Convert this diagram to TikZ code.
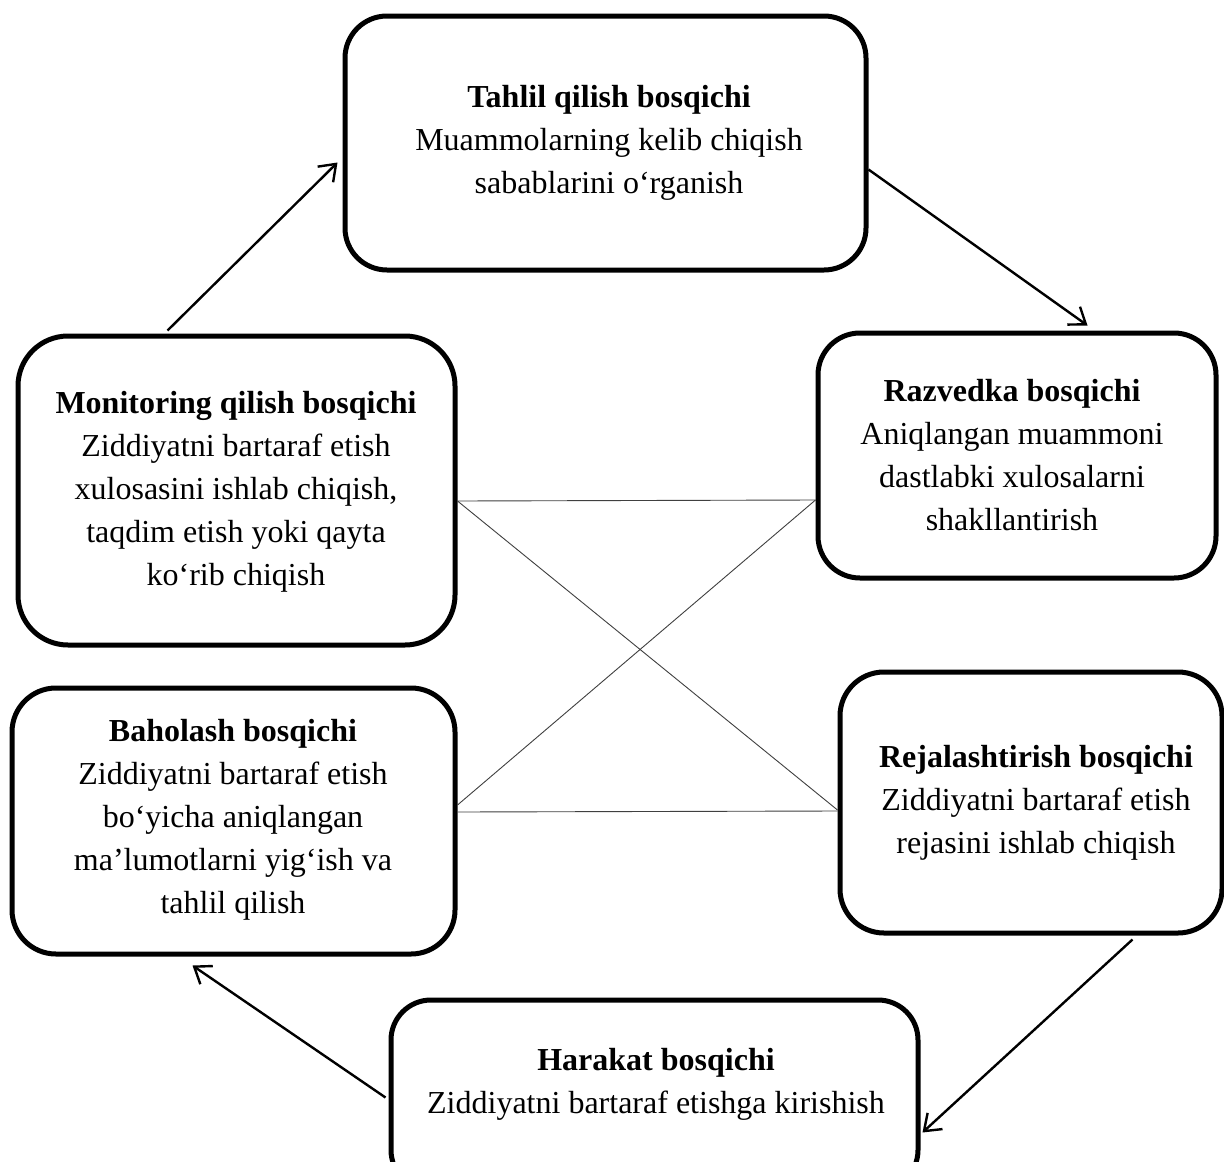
\documentclass[tikz,border=0pt]{standalone}
\usepackage{fontspec}
\setmainfont{Liberation Serif}
\usetikzlibrary{arrows.meta,calc}
\begin{document}
\begin{tikzpicture}[x=1pt,y=-1pt,
  box/.style={draw, line width=5pt, inner sep=0pt},
  txt/.style={align=center, inner sep=0pt, font=\fontsize{32}{43}\selectfont},
  arr/.style={line width=2.4pt, -{Straight Barb[length=15pt,width=22pt,line width=2.4pt]}},
  cross/.style={line width=0.9pt, black!75}]
\fill[white] (0,0) rectangle (1224,1162);
\clip (0,0) rectangle (1224,1162);
% boxes
\node[box, minimum width=521pt, minimum height=254pt, rounded corners=42pt] (tahlil) at (605.5,143) {};
\node[box, minimum width=398pt, minimum height=245pt, rounded corners=42pt] (razv) at (1017,455.5) {};
\node[box, minimum width=437pt, minimum height=309pt, rounded corners=50pt] (mon) at (236.5,490.5) {};
\node[box, minimum width=443pt, minimum height=266pt, rounded corners=44pt] (bah) at (233.5,821) {};
\node[box, minimum width=382pt, minimum height=261pt, rounded corners=44pt] (rej) at (1031,802.5) {};
\node[box, minimum width=527pt, minimum height=190pt, rounded corners=40pt] (har) at (654.5,1095) {};
% texts
\node[txt] (t1) at (609,143) {\textbf{Tahlil qilish bosqichi}\\Muammolarning kelib chiqish\\sabablarini o‘rganish};
\node[txt] (t2) at (1012,455) {\textbf{Razvedka bosqichi}\\Aniqlangan muammoni\\dastlabki xulosalarni\\shakllantirish};
\node[txt] (t3) at (236,492) {\textbf{Monitoring qilish bosqichi}\\Ziddiyatni bartaraf etish\\xulosasini ishlab chiqish,\\taqdim etish yoki qayta\\ko‘rib chiqish};
\node[txt] (t4) at (233,820) {\textbf{Baholash bosqichi}\\Ziddiyatni bartaraf etish\\bo‘yicha aniqlangan\\ma’lumotlarni yig‘ish va\\tahlil qilish};
\node[txt] (t5) at (1036,803) {\textbf{Rejalashtirish bosqichi}\\Ziddiyatni bartaraf etish\\rejasini ishlab chiqish};
\node[txt] (t6) at (656,1084) {\textbf{Harakat bosqichi}\\Ziddiyatni bartaraf etishga kirishish};
% cross lines
\draw[cross] ($(mon.east)+(0,10.5)$) -- ($(razv.west)+(0,44.5)$);
\draw[cross] ($(mon.east)+(0,10.5)$) -- ($(rej.west)+(0,7.5)$);
\draw[cross] ($(bah.east)+(0,-16)$) -- ($(razv.west)+(0,44.5)$);
\draw[cross] ($(bah.east)+(0,-9)$) -- ($(rej.west)+(0,8.5)$);
% arrows
\draw[arr] ($(mon.north west)+(152,-3)$) -- ($(tahlil.north west)+(-5,149)$);
\draw[arr] ($(tahlil.north east)+(0,156)$) -- ($(razv.north west)+(272,-5)$);
\draw[arr] ($(rej.south west)+(295,4)$) -- ($(har.north east)+(2,135)$);
\draw[arr] ($(har.north west)+(-3,100)$) -- ($(bah.south west)+(183,9)$);
\end{tikzpicture}
\end{document}
